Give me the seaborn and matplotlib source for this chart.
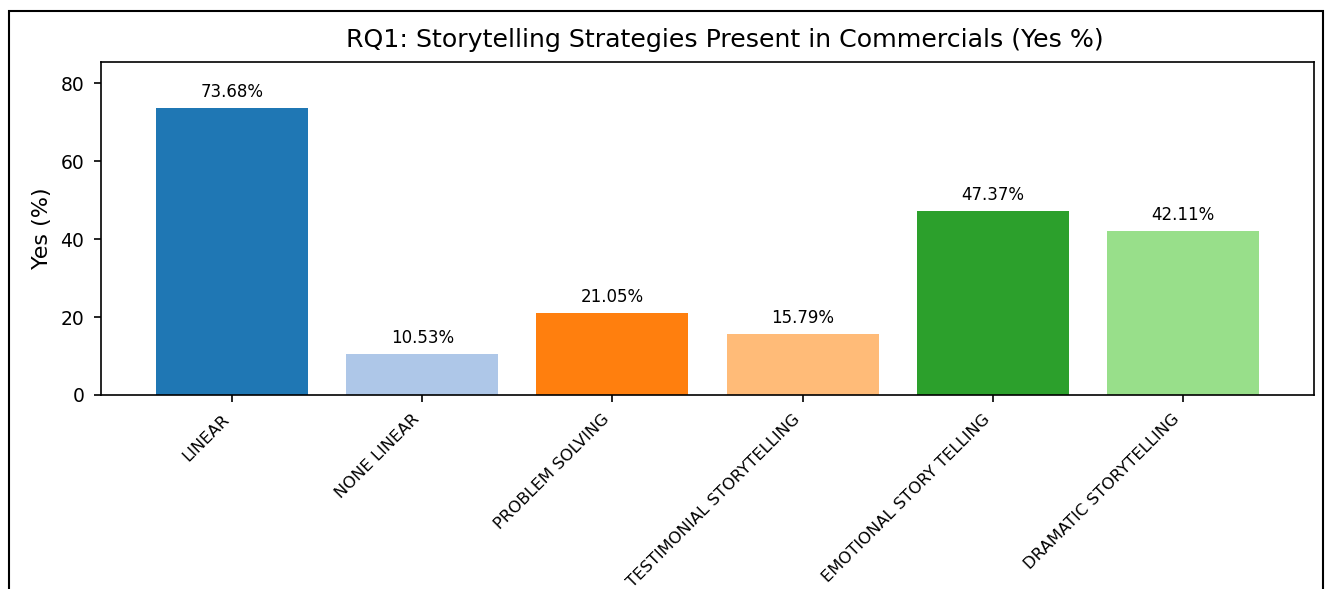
import matplotlib
matplotlib.use("Agg")
import matplotlib.pyplot as plt
import seaborn as sns
import pandas as pd
from matplotlib.patches import Rectangle

categories = ["LINEAR", "NONE LINEAR", "PROBLEM SOLVING", "TESTIMONIAL STORYTELLING",
              "EMOTIONAL STORY TELLING", "DRAMATIC STORYTELLING"]
yes_pct = [73.68, 10.53, 21.05, 15.79, 47.37, 42.11]
colors = ["#1f77b4", "#aec7e8", "#ff7f0e", "#ffbb78", "#2ca02c", "#98df8a"]

df = pd.DataFrame({"category": categories, "yes": yes_pct})

plt.rcParams['font.family'] = ['DejaVu Sans']
fig = plt.figure(figsize=(13.31, 5.89), dpi=100)
ax = fig.add_axes([101/1331, 1-395/589, (1314-101)/1331, (395-62)/589])

sns.barplot(data=df, x="category", y="yes", hue="category", palette=colors,
            legend=False, width=0.8, ax=ax, saturation=1)

for i, v in enumerate(yes_pct):
    ax.annotate(f"{v:.2f}%", (i, v), xytext=(0, 5), textcoords="offset points",
                ha="center", va="bottom", fontsize=12)

ax.set_xlim(-0.69, 5.69)
ax.set_ylim(0, 85.5)
ax.set_yticks([0, 20, 40, 60, 80])
ax.tick_params(axis="y", labelsize=13.5, pad=7, length=5, width=1.2)
ax.tick_params(axis="x", labelsize=11.8, pad=7, length=5, width=1.2)
plt.setp(ax.get_xticklabels(), rotation=45, ha="right", rotation_mode="default")
for s in ax.spines.values():
    s.set_linewidth(1.2)
ax.set_xlabel("")
ax.set_ylabel("Yes (%)", fontsize=16, labelpad=6)
ax.set_title("RQ1: Storytelling Strategies Present in Commercials (Yes %)",
             fontsize=18.2, x=0.514, pad=11)

fig.patches.append(Rectangle((9/1331, -0.1), (1323-9)/1331, 1.1 - 11/589,
                             transform=fig.transFigure, fill=False, edgecolor="black",
                             linewidth=1.5))

fig.savefig("out.png", dpi=100)
